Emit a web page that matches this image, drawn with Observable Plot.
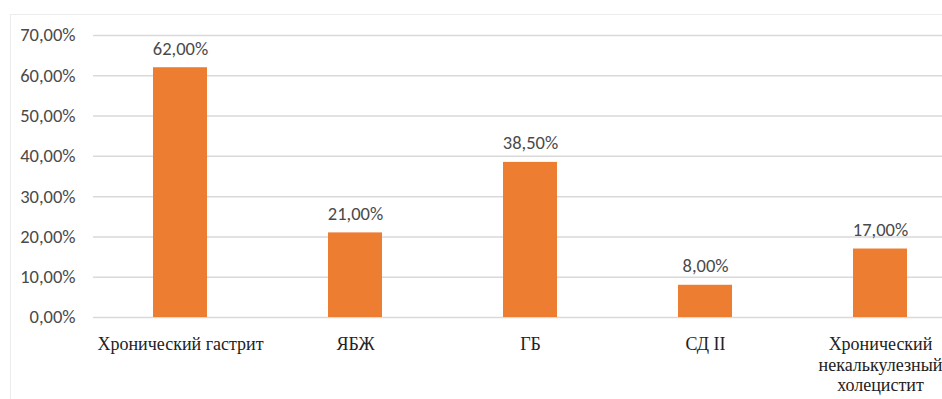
<!DOCTYPE html>
<html>
<head>
<meta charset="utf-8">
<script src="https://cdn.jsdelivr.net/npm/d3@7"></script>
<script src="https://cdn.jsdelivr.net/npm/@observablehq/plot@0.6"></script>
<style>
  html, body { margin: 0; padding: 0; background: #fff; }
  #wrap { position: relative; width: 942px; height: 399px; overflow: hidden; }
  #frame { position: absolute; left: 10px; top: 14px; width: 1000px; height: 500px;
           border-left: 1.5px solid #ececec; border-top: 1.5px solid #ececec; pointer-events: none; }
  #chart { position: absolute; left: 0; top: 0; }
</style>
</head>
<body>
<div id="wrap"><div id="chart"></div><div id="frame"></div></div>
<script>
const categories = ["Хронический гастрит", "ЯБЖ", "ГБ", "СД II", "Хронический\nнекалькулезный\nхолецистит"];
const values = [62, 21, 38.5, 8, 17];
const yTicks = [0, 10, 20, 30, 40, 50, 60, 70];

const data = categories.map((c, i) => ({category: c, value: values[i]}));
const fmt = v => v.toFixed(2).replace(".", ",") + "%";

const chart = Plot.plot({
  width: 942,
  height: 399,
  marginTop: 35,
  marginBottom: 82,
  marginLeft: 93,
  marginRight: 0,
  style: {background: "transparent", overflow: "visible"},
  x: {domain: categories, range: [93, 967.5], paddingInner: 0.691, paddingOuter: 0.343, align: 0.5},
  y: {domain: [0, 70]},
  marks: [
    Plot.gridY(yTicks, {stroke: "#d9d9d9", strokeOpacity: 1, strokeWidth: 1.5}),
    Plot.barY(data, {x: "category", y: "value", fill: "#ED7D31"}),
    Plot.text(data, {x: "category", y: "value", text: d => fmt(d.value), dy: -19,
      fill: "#4a4a4a", fontSize: 18.5, fontFamily: "Carlito"}),
    Plot.axisY(yTicks, {tickSize: 0, tickPadding: 18, tickFormat: fmt, fill: "#4a4a4a",
      fontSize: 18.5, fontFamily: "Carlito", label: null}),
    Plot.axisX({tickSize: 0, tickPadding: 18, fill: "#222", fontSize: 18, lineHeight: 1.14,
      fontFamily: "Liberation Serif", label: null})
  ]
});
document.getElementById("chart").appendChild(chart);
</script>
</body>
</html>
